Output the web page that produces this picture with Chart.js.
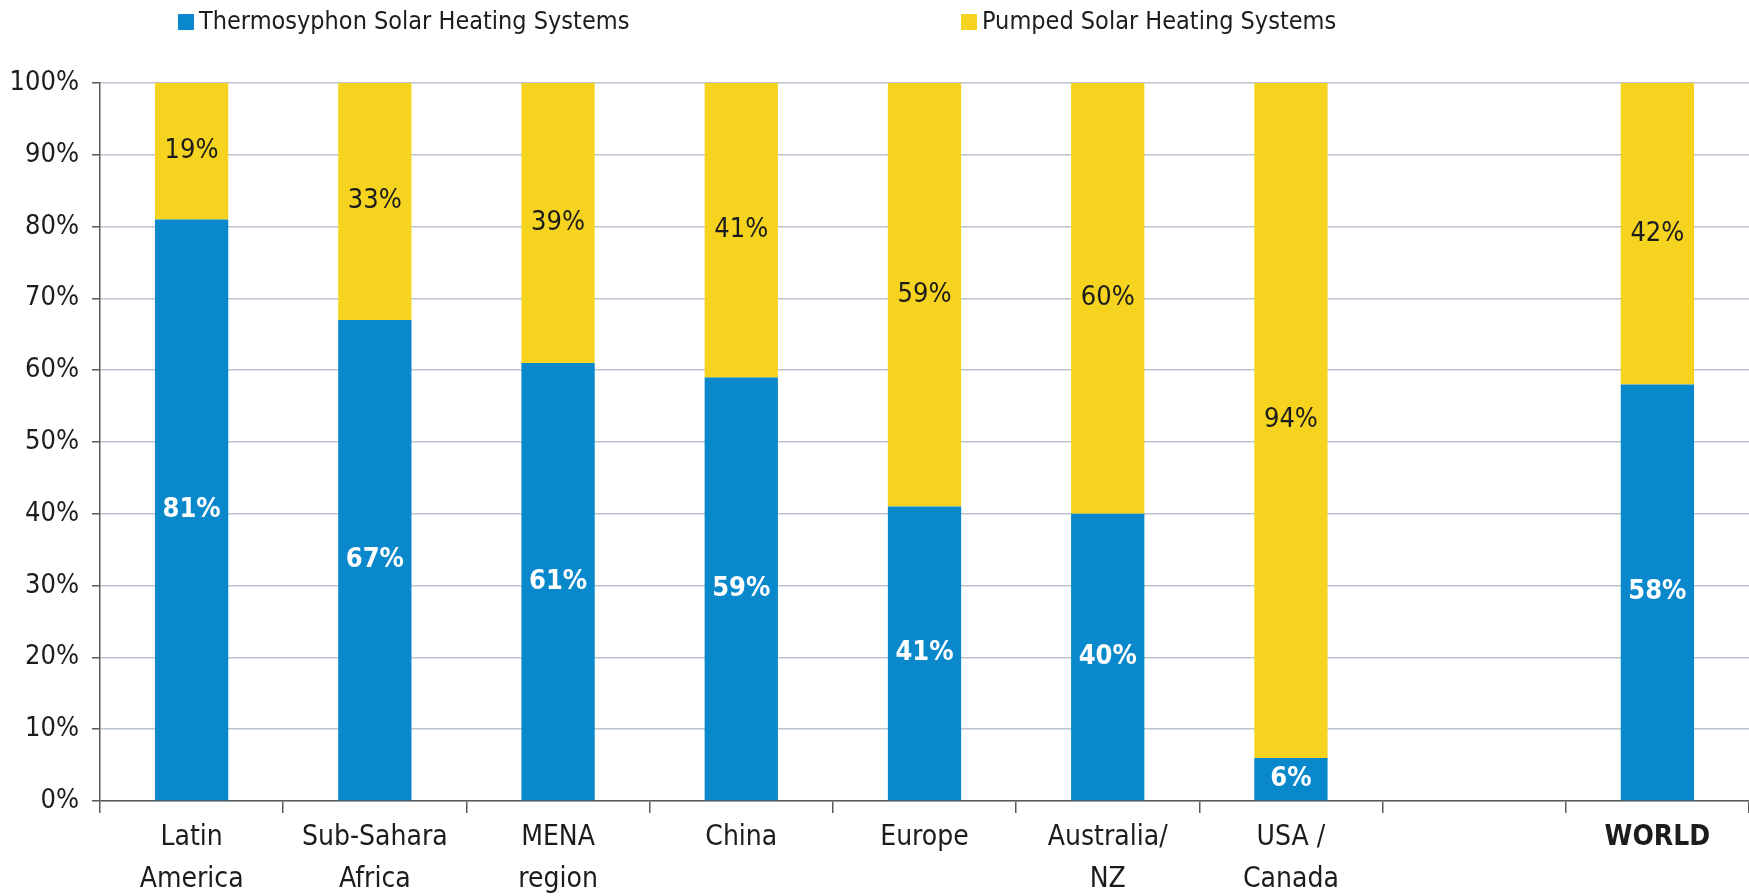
<!DOCTYPE html>
<html>
<head>
<meta charset="utf-8">
<title>Thermosyphon vs pumped solar heating systems</title>
<script src="https://cdn.jsdelivr.net/npm/chart.js@4.4.1/dist/chart.umd.min.js"></script>
<style>
  html, body { margin: 0; padding: 0; background: #fff; }
  .shareChart { width: 1749px; height: 896px; position: relative; }
</style>
</head>
<body>
<div class="shareChart">
  <canvas id="share"></canvas>
</div>
<script>
// market share per region, in percent
const regions = [
  ['Latin', 'America'],
  ['Sub-Sahara', 'Africa'],
  ['MENA', 'region'],
  'China',
  'Europe',
  ['Australia/', 'NZ'],
  ['USA /', 'Canada'],
  '',
  'WORLD'
];
const thermosyphon = [81, 67, 61, 59, 41, 40, 6, null, 58];
const pumped = [19, 33, 39, 41, 59, 60, 94, null, 42];
const yTicks = [0, 10, 20, 30, 40, 50, 60, 70, 80, 90, 100];

const FONT = '"DejaVu Sans Condensed", "Liberation Sans Narrow", "Noto Sans", sans-serif';
const BLUE = '#0a88cc';
const YELLOW = '#f5d31f';
const INK = '#1c1c1c';
const AXIS = '#5a5a5a';

// legend row drawn by hand so both items sit where we want them
const legendRow = {
  id: 'legendRow',
  afterDraw(chart, args, opts) {
    const ctx = chart.ctx;
    ctx.save();
    ctx.font = opts.font;
    ctx.textBaseline = 'middle';
    chart.data.datasets.forEach((ds, i) => {
      const x = opts.starts[i];
      ctx.fillStyle = ds.backgroundColor;
      ctx.fillRect(x, opts.y - opts.box / 2, opts.box, opts.box);
      ctx.fillStyle = INK;
      ctx.fillText(ds.label, x + opts.box + 5, opts.y);
    });
    ctx.restore();
  }
};

// percentage printed in the middle of each segment
const segmentLabels = {
  id: 'segmentLabels',
  afterDatasetsDraw(chart, args, opts) {
    const ctx = chart.ctx;
    ctx.save();
    ctx.textAlign = 'center';
    ctx.textBaseline = 'middle';
    chart.data.datasets.forEach((ds, i) => {
      const meta = chart.getDatasetMeta(i);
      const style = opts.styles[i];
      ctx.font = style.font;
      ctx.fillStyle = style.color;
      meta.data.forEach((bar, j) => {
        const v = ds.data[j];
        if (v === null || v === undefined) return;
        const p = bar.getProps(['x', 'y', 'base'], true);
        ctx.fillText(v + '%', p.x, (p.y + p.base) / 2);
      });
    });
    ctx.restore();
  }
};

const data = {
  labels: regions,
  datasets: [
    { label: 'Thermosyphon Solar Heating Systems', data: thermosyphon, backgroundColor: BLUE },
    { label: 'Pumped Solar Heating Systems', data: pumped, backgroundColor: YELLOW }
  ]
};

const config = {
  type: 'bar',
  data: data,
  options: {
    responsive: true,
    maintainAspectRatio: false,
    animation: false,
    layout: { padding: { top: 83, left: 0, right: 0, bottom: 0 } },
    datasets: {
      bar: { categoryPercentage: 1, barPercentage: 0.4, borderWidth: 0 }
    },
    scales: {
      x: {
        stacked: true,
        afterFit: (scale) => { scale.height = 95; },
        border: { color: AXIS, width: 1.5 },
        grid: {
          offset: true,
          drawOnChartArea: false,
          color: AXIS,
          tickColor: AXIS,
          tickLength: 12,
          lineWidth: 1.5
        },
        ticks: {
          color: INK,
          padding: 4,
          maxRotation: 0,
          autoSkip: false,
          font: (c) => ({
            family: FONT,
            size: 28,
            weight: c.tick && c.tick.label === 'WORLD' ? 'bold' : 'normal',
            lineHeight: 1.5
          })
        }
      },
      y: {
        stacked: true,
        min: 0,
        max: 100,
        afterFit: (scale) => { scale.width = 100; },
        afterBuildTicks: (scale) => { scale.ticks = yTicks.map(v => ({ value: v })); },
        border: { color: AXIS, width: 1.5 },
        grid: {
          color: '#b9c4ce',
          tickColor: AXIS,
          tickLength: 8,
          lineWidth: 1.5
        },
        ticks: {
          color: INK,
          padding: 13,
          font: { family: FONT, size: 27 },
          callback: (v) => v + '%'
        }
      }
    },
    plugins: {
      legend: { display: false },
      tooltip: { enabled: false },
      legendRow: {
        font: '25px ' + FONT,
        starts: [178, 961],
        y: 22,
        box: 16
      },
      segmentLabels: {
        styles: [
          { font: 'bold 27px ' + FONT, color: '#ffffff' },
          { font: '27px ' + FONT, color: INK }
        ]
      }
    }
  },
  plugins: [legendRow, segmentLabels]
};

new Chart(document.getElementById('share'), config);
</script>
</body>
</html>
